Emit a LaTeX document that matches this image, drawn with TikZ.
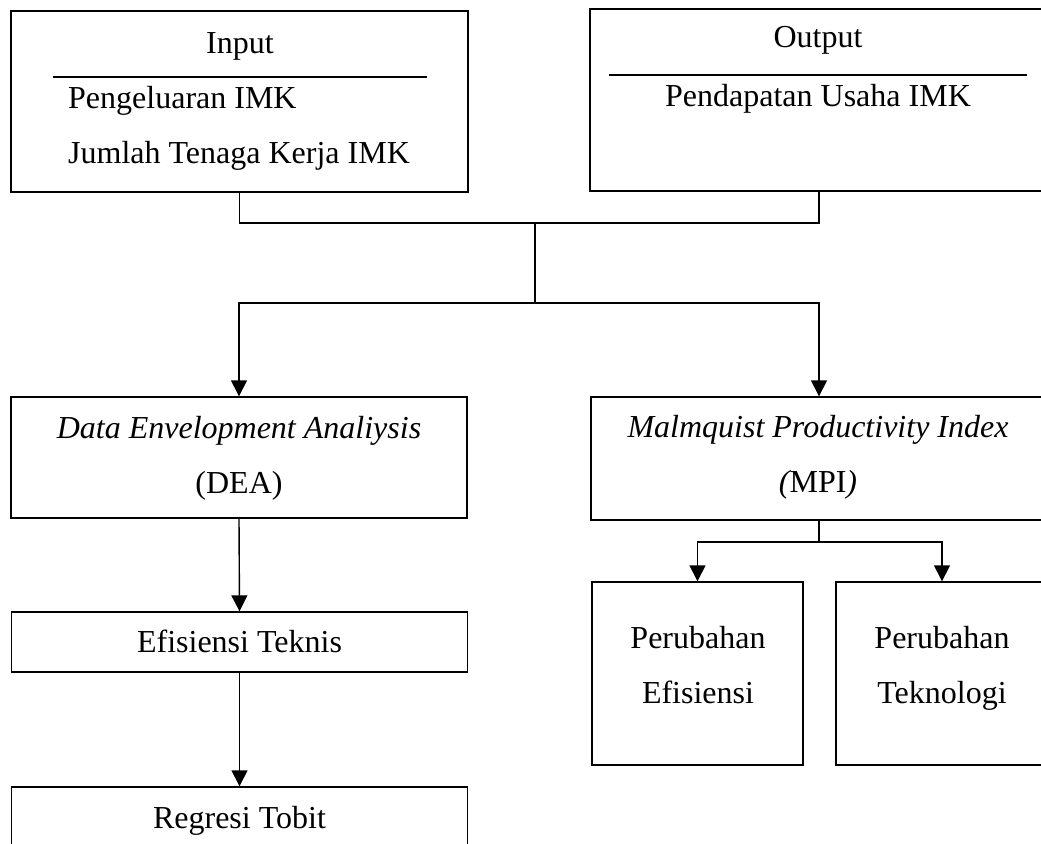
\documentclass[tikz,border=0pt]{standalone}
\usepackage{fontspec}
\setmainfont{Liberation Serif}
\usetikzlibrary{arrows.meta}
\begin{document}
\begin{tikzpicture}[x=1pt,y=-1pt,
  box/.style={draw, line width=1.4pt, rectangle, inner sep=0pt},
  txt/.style={anchor=base, inner sep=0pt, font=\fontsize{32}{38}\selectfont},
  txtl/.style={anchor=base west, inner sep=0pt, font=\fontsize{32}{38}\selectfont},
  conn/.style={line width=1.4pt},
  arr/.style={line width=1.4pt, -{Triangle[length=16pt,width=16pt]}}]
\useasboundingbox (0,0) rectangle (1041,843);
\clip (0,0) rectangle (1041,843);
% boxes
\node[box, minimum width=457pt, minimum height=181pt] (in) at (239.5,101.5) {};
\node[box, minimum width=458pt, minimum height=182pt] (out) at (819,100) {};
\node[box, minimum width=456pt, minimum height=121pt] (dea) at (239,457.5) {};
\node[box, minimum width=456pt, minimum height=123pt] (mpi) at (819,458.5) {};
\node[box, minimum width=456pt, minimum height=60pt] (et) at (239.5,642) {};
\node[box, minimum width=456pt, minimum height=100pt] (rt) at (239.5,837) {};
\node[box, minimum width=211pt, minimum height=183pt] (pe) at (697.5,673.5) {};
\node[box, minimum width=212pt, minimum height=183pt] (pt) at (942,673.5) {};
% texts
\node[txt] (tin) at (240,53) {Input};
\draw[line width=1.2pt] (53,77) coordinate (s1a) -- (427,77) coordinate (s1b);
\node[txtl] (tin1) at (68,108) {Pengeluaran IMK};
\node[txtl] (tin2) at (68,163) {Jumlah Tenaga Kerja IMK};
\node[txt] (tout) at (818,48) {Output};
\draw[line width=1.2pt] (609,75) coordinate (s2a) -- (1027,75) coordinate (s2b);
\node[txt] (tout1) at (818,106) {Pendapatan Usaha IMK};
\node[txt] (tdea1) at (239,438) {\itshape Data Envelopment Analiysis};
\node[txt] (tdea2) at (239,493) {(DEA)};
\node[txt] (tmpi1) at (818,437) {\itshape Malmquist Productivity Index};
\node[txt] (tmpi2) at (818,492) {\itshape(\upshape MPI\itshape)};
\node[txt] (tet) at (239.5,652) {Efisiensi Teknis};
\node[txt] (trt) at (239.5,828) {Regresi Tobit};
\node[txt] (tpe1) at (698,648) {Perubahan};
\node[txt] (tpe2) at (698,703) {Efisiensi};
\node[txt] (tpt1) at (942,648) {Perubahan};
\node[txt] (tpt2) at (942,703) {Teknologi};
% connectors
\coordinate (top) at (535,223);
\coordinate (mid) at (535,303);
\coordinate (mj) at (819,542);
\draw[conn] (in.south) |- (top) -| (out.south);
\draw[conn] (top) -- (mid);
\draw[arr] (mid) -| (dea.north);
\draw[arr] (mid) -| (mpi.north);
\draw[conn] (mpi.south) -- (mj);
\draw[arr] (mj) -| (pe.north);
\draw[arr] (mj) -| (pt.north);
\draw[arr] (dea.south) -- (et.north);
\draw[arr] (et.south) -- (rt.north);
\end{tikzpicture}
\end{document}
